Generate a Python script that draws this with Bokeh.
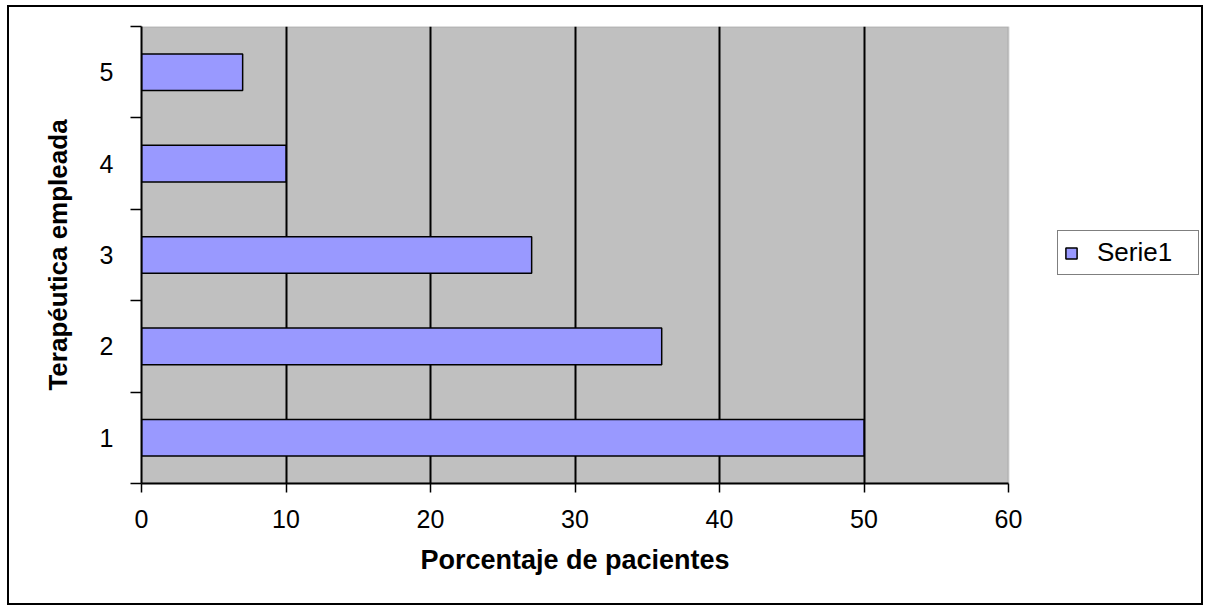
from bokeh.plotting import figure
from bokeh.models import Range1d, FixedTicker, Legend, LegendItem, BoxAnnotation, Title
from bokeh.embed import file_html
from bokeh.resources import INLINE

# Data
categories = ["1", "2", "3", "4", "5"]
positions = [1, 2, 3, 4, 5]
porcentaje = [50, 36, 27, 10, 7]
x_ticks = [0, 10, 20, 30, 40, 50, 60]
x_max = 60
series_name = "Serie1"
x_title = "Porcentaje de pacientes"
y_title = "Terapéutica empleada"

FONT = "Liberation Sans"

# The frame spans the whole width to the right so that the legend can sit
# beside the grey plotting area; the grey area itself stops at x_max.
FRAME_W = 1058
PLOT_W = 867
x_end = x_max * FRAME_W / PLOT_W

p = figure(
    width=1192, height=596,
    output_backend="svg", toolbar_location=None,
    x_range=Range1d(0, x_end), y_range=Range1d(0.5, 5.5),
    min_border_left=132, min_border_right=2,
    min_border_top=19, min_border_bottom=120,
    background_fill_color="white",
    border_fill_color="white",
    outline_line_color=None,
    margin=(7, 0, 0, 9),
    styles={"outline": "2px solid black"},
)

# grey plotting area from 0 to x_max
area = BoxAnnotation(left=0, right=x_max, fill_color="#C0C0C0", fill_alpha=1,
                     line_color="#808080", line_width=2, level="image")
p.add_layout(area)

bars = p.hbar(y=positions, right=porcentaje, left=0, height=0.4,
              fill_color="#9999FF", line_color="black", line_width=1.5)

# x axis
xa = p.xaxis[0]
xa.bounds = (0, x_max)
xa.ticker = FixedTicker(ticks=x_ticks, minor_ticks=[])
xa.axis_line_color = "black"
xa.axis_line_width = 2
xa.major_tick_line_color = "black"
xa.major_tick_line_width = 1.5
xa.major_tick_out = 9
xa.major_tick_in = 0
xa.minor_tick_out = 0
xa.major_label_text_font = FONT
xa.major_label_text_font_size = "25px"
xa.major_label_text_color = "black"
xa.major_label_standoff = 17

# x axis title, centred under the grey area
TITLE_SIZE = 27
title_w = 11.45 * TITLE_SIZE
p.add_layout(Title(text=x_title, align="left",
                   offset=PLOT_W / 2 - title_w / 2,
                   text_font=FONT, text_font_size=f"{TITLE_SIZE}px",
                   text_font_style="bold", text_color="black",
                   standoff=24), "below")

# y axis: labels at category centres, ticks at category boundaries
ya = p.yaxis[0]
ya.ticker = FixedTicker(ticks=positions,
                        minor_ticks=[0.5, 1.5, 2.5, 3.5, 4.5, 5.5])
ya.major_label_overrides = {pos: cat for pos, cat in zip(positions, categories)}
ya.axis_line_color = "black"
ya.axis_line_width = 2
ya.major_tick_out = 0
ya.major_tick_in = 0
ya.minor_tick_out = 11
ya.minor_tick_in = 0
ya.minor_tick_line_color = "black"
ya.minor_tick_line_width = 1.5
ya.major_label_text_font = FONT
ya.major_label_text_font_size = "25px"
ya.major_label_text_color = "black"
ya.major_label_standoff = 17
ya.axis_label = y_title
ya.axis_label_text_font = FONT
ya.axis_label_text_font_size = "26px"
ya.axis_label_text_font_style = "bold"
ya.axis_label_text_color = "black"
ya.axis_label_standoff = 24

# grid
p.xgrid.ticker = FixedTicker(ticks=[10, 20, 30, 40, 50])
p.xgrid.grid_line_color = "black"
p.xgrid.grid_line_width = 2
p.ygrid.grid_line_color = None

# legend beside the grey area
legend = Legend(
    items=[LegendItem(label=series_name, renderers=[bars])],
    location=(916, 208),
    border_line_color="black", border_line_width=1.5,
    background_fill_color="white", background_fill_alpha=1,
    label_text_font=FONT, label_text_font_size="26px",
    label_text_color="black",
    glyph_width=14, glyph_height=14,
    label_standoff=19, label_width=95,
    padding=6, margin=0, spacing=0,
)
p.add_layout(legend, "center")

open("out.html", "w").write(file_html(p, INLINE))
